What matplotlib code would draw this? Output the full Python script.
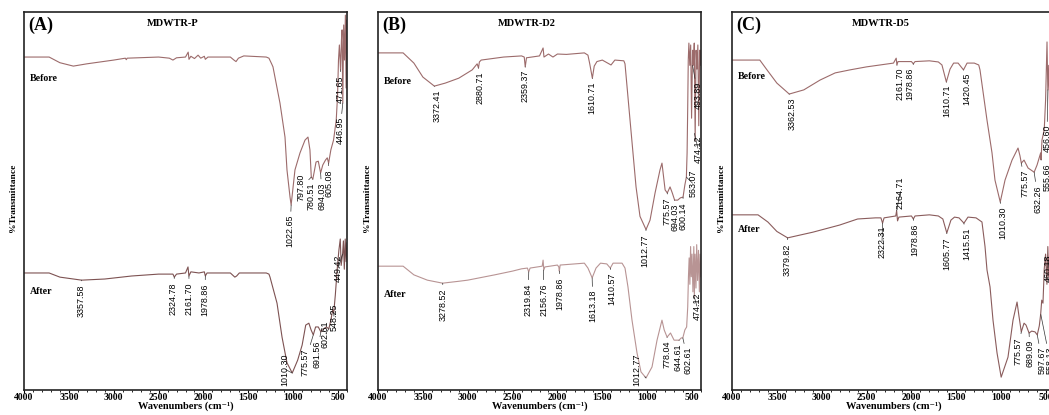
import numpy as np
import matplotlib
matplotlib.use("Agg")
import matplotlib.pyplot as plt
from matplotlib.ticker import MultipleLocator

plt.rcParams['font.family'] = ['Liberation Serif', 'DejaVu Serif']

# spectra: (wavenumber, %T on an arbitrary 0-100 scale)
a_before = [(4000, 88.2), (3720, 88.2), (3600, 86.7), (3450, 85.8), (3300, 86.4), (3000, 87.4),
            (2870, 87.9), (2860, 87.5), (2850, 87.9), (2500, 88.2), (2380, 87.9), (2340, 87.4),
            (2300, 88.0), (2200, 88.2), (2170, 89.5), (2161, 87.6), (2140, 88.4), (2100, 87.8),
            (2060, 88.7), (2030, 87.9), (1990, 88.4), (1979, 87.6), (1950, 88.2), (1700, 88.2),
            (1660, 87.4), (1637, 87.0), (1610, 87.9), (1550, 88.5), (1300, 88.2), (1270, 87.9),
            (1240, 86.4), (1225, 85.6), (1147, 76.0), (1091, 67.0), (1069, 58.3), (1035, 51.1),
            (1022.65, 49.0), (980, 58.3), (924, 62.8), (868, 66.2), (835, 67.0), (813, 63.6),
            (798, 56.4), (780.5, 55.9), (745, 60.4), (720, 60.6), (694, 57.5), (670, 59.6),
            (640, 60.9), (620, 61.5), (605, 60.1), (580, 63.6), (550, 66.2), (520, 71.5),
            (505, 78.1), (495, 87.4), (485, 91.4), (472, 84.8), (462, 92.7), (455, 95.4),
            (447, 76.0), (437, 96.7), (428, 87.4), (418, 99.3), (410, 80.0), (404, 98.0), (400, 96.7)]
a_after = [(4000, 31.0), (3720, 31.0), (3600, 29.9), (3358, 29.1), (3100, 29.4), (2800, 30.2),
           (2500, 30.7), (2340, 30.7), (2325, 29.9), (2300, 30.7), (2200, 31.0), (2172, 32.6),
           (2162, 30.2), (2140, 31.3), (2050, 31.0), (1990, 31.3), (1979, 30.2), (1960, 31.0),
           (1700, 31.0), (1650, 29.9), (1630, 30.2), (1600, 31.0), (1300, 31.0), (1270, 30.7),
           (1258, 29.9), (1180, 23.0), (1124, 14.0), (1069, 7.2), (1010.3, 4.5), (950, 7.9),
           (900, 11.9), (860, 17.2), (825, 17.7), (800, 15.9), (775.6, 14.6), (750, 16.7),
           (720, 16.7), (691.6, 15.4), (660, 16.2), (630, 16.7), (602.6, 16.2), (580, 18.5),
           (560, 21.2), (548, 20.4), (530, 25.2), (510, 31.8), (490, 37.1), (475, 40.0),
           (465, 33.0), (449.4, 36.0), (440, 39.5), (430, 32.0), (420, 40.0), (410, 34.0), (400, 39.0)]

b_before = [(4000, 89.3), (3720, 89.3), (3600, 86.6), (3500, 82.9), (3372, 80.5), (3250, 81.3),
            (3100, 82.6), (2950, 84.8), (2895, 86.4), (2880, 85.3), (2870, 86.9), (2850, 87.4),
            (2600, 88.2), (2400, 88.5), (2370, 88.2), (2359, 85.6), (2345, 88.0), (2200, 88.5),
            (2160, 90.6), (2150, 88.2), (2100, 89.0), (2050, 88.2), (2000, 89.0), (1900, 88.9),
            (1700, 89.3), (1660, 88.7), (1640, 86.4), (1611, 82.6), (1590, 85.8), (1560, 87.0),
            (1500, 87.4), (1403, 86.1), (1360, 87.4), (1260, 87.2), (1247, 86.4), (1191, 71.5),
            (1158, 62.8), (1124, 53.8), (1080, 46.0), (1012.77, 42.5), (968, 45.0), (912, 52.2),
            (857, 58.3), (835, 60.1), (800, 53.0), (775.6, 52.2), (745, 53.8), (720, 52.2),
            (694, 50.3), (660, 50.3), (630, 50.9), (600, 51.1), (580, 54.3), (563, 56.4),
            (555, 62.8), (548, 75.0), (542, 87.4), (535, 91.9), (525, 86.0), (515, 91.4),
            (505, 72.0), (494, 90.0), (485, 86.0), (475, 91.9), (465, 66.0), (455, 90.0),
            (445, 85.0), (435, 91.4), (425, 70.0), (415, 90.0), (405, 86.0), (400, 90.0)]
b_after = [(4000, 32.8), (3720, 32.8), (3600, 30.5), (3450, 29.1), (3280, 28.3), (3100, 28.8),
           (3000, 29.1), (2700, 30.5), (2500, 31.5), (2400, 32.1), (2335, 32.3), (2320, 31.3),
           (2305, 32.3), (2170, 32.8), (2160, 34.4), (2152, 31.8), (2140, 32.6), (2000, 33.1),
           (1985, 32.6), (1979, 31.5), (1970, 33.1), (1700, 33.6), (1660, 32.3), (1613, 29.7),
           (1570, 32.3), (1520, 33.6), (1450, 33.4), (1411, 32.3), (1380, 33.6), (1280, 33.6),
           (1247, 32.3), (1214, 27.3), (1169, 18.5), (1113, 9.8), (1069, 4.8), (1012.77, 3.2),
           (946, 6.1), (890, 13.2), (835, 18.5), (810, 15.9), (778, 14.0), (740, 15.1),
           (700, 13.2), (644.6, 13.2), (620, 13.8), (602.6, 13.8), (580, 15.9), (560, 16.7),
           (548, 22.0), (540, 30.0), (532, 35.0), (524, 28.0), (516, 38.0), (508, 30.0),
           (500, 36.0), (490, 26.0), (480, 38.0), (474, 24.6), (466, 36.0), (456, 27.0),
           (448, 38.5), (438, 29.0), (428, 37.0), (418, 26.0), (410, 36.0), (400, 30.0)]

c_before = [(4000, 87.4), (3690, 87.4), (3610, 84.8), (3500, 81.3), (3362, 78.4), (3200, 79.5),
            (3019, 82.1), (2850, 84.0), (2685, 84.8), (2500, 85.6), (2350, 86.1), (2200, 86.6),
            (2170, 87.9), (2162, 86.1), (2150, 87.0), (2000, 87.0), (1979, 86.4), (1960, 87.0),
            (1800, 87.2), (1700, 86.9), (1660, 86.1), (1611, 81.6), (1570, 85.0), (1530, 86.6),
            (1480, 86.6), (1420, 84.8), (1380, 86.6), (1300, 86.6), (1250, 86.1), (1236, 84.8),
            (1158, 71.5), (1102, 62.8), (1069, 55.6), (1010.3, 49.8), (957, 55.6), (879, 60.9),
            (812, 64.1), (790, 62.0), (775.6, 60.1), (745, 60.9), (700, 58.8), (632.3, 57.7),
            (600, 59.6), (560, 62.8), (555.7, 61.0), (545, 66.2), (520, 68.9), (505, 76.8),
            (489, 92.2), (480, 79.5), (470, 86.0), (460, 74.0), (450, 84.0), (440, 72.0),
            (430, 80.0), (400, 76.0)]
c_after = [(4000, 46.4), (3710, 46.4), (3600, 44.5), (3500, 42.0), (3380, 40.3), (3250, 41.0),
           (3100, 41.8), (2800, 43.7), (2600, 45.3), (2400, 45.6), (2340, 45.6), (2322, 44.2),
           (2305, 45.6), (2175, 46.1), (2165, 47.5), (2155, 44.8), (2140, 45.8), (2000, 46.1),
           (1979, 45.3), (1960, 46.1), (1800, 46.4), (1700, 46.1), (1650, 45.3), (1606, 41.6),
           (1560, 45.0), (1520, 45.8), (1470, 45.6), (1415, 44.2), (1370, 45.8), (1280, 45.6),
           (1214, 44.5), (1180, 38.0), (1158, 31.8), (1124, 27.3), (1091, 18.5), (1046, 9.8),
           (1000, 3.4), (924, 8.7), (868, 18.5), (823, 23.3), (800, 19.3), (775.6, 15.4),
           (745, 17.7), (723, 17.2), (689, 15.1), (660, 15.6), (623, 15.4), (597.7, 14.6),
           (575, 17.0), (560, 20.0), (548, 23.8), (534, 23.0), (520, 32.0), (505, 36.0),
           (490, 28.0), (480, 38.0), (470, 30.0), (460, 36.0), (450, 29.0), (440, 37.0),
           (420, 30.0), (400, 35.0)]

# peak labels: (text, peak wn, peak %T)
a_before_peaks = [("1022.65", 1022.65, 49.0), ("797.80", 797.8, 56.4), ("780.51", 780.5, 55.9),
                  ("694.03", 694.0, 57.5), ("605.08", 605.1, 60.1), ("446.95", 447.0, 76.0),
                  ("471.65", 471.7, 84.8)]
a_after_peaks = [("3357.58", 3357.6, 29.1), ("2324.78", 2324.8, 29.9), ("2161.70", 2161.7, 30.2),
                 ("1978.86", 1978.9, 30.2), ("1010.30", 1010.3, 4.5), ("775.57", 775.6, 14.6),
                 ("691.56", 691.6, 15.4), ("602.61", 602.6, 16.2), ("548.25", 548.3, 20.4),
                 ("449.42", 449.4, 36.0)]
b_before_peaks = [("3372.41", 3372.4, 80.5), ("2880.71", 2880.7, 85.3), ("2359.37", 2359.4, 85.6),
                  ("1610.71", 1610.7, 82.6), ("493.89", 493.9, 86.0), ("1012.77", 1012.8, 42.5),
                  ("775.57", 775.6, 52.2), ("694.03", 694.0, 50.3), ("600.14", 600.1, 51.1),
                  ("563.07", 563.1, 56.4), ("474.12", 474.1, 68.0)]
b_after_peaks = [("3278.52", 3278.5, 28.3), ("2319.84", 2319.8, 31.3), ("2156.76", 2156.8, 31.8),
                 ("1978.86", 1978.9, 31.5), ("1613.18", 1613.2, 29.7), ("1410.57", 1410.6, 32.3),
                 ("1012.77", 1012.8, 3.2), ("778.04", 778.0, 14.0), ("644.61", 644.6, 13.2),
                 ("602.61", 602.6, 13.8), ("474.12", 474.1, 24.6)]
c_before_peaks = [("3362.53", 3362.5, 78.4), ("2161.70", 2161.7, 86.1), ("1978.86", 1978.9, 86.4),
                  ("1610.71", 1610.7, 81.6), ("1420.45", 1420.5, 84.8), ("1010.30", 1010.3, 49.8),
                  ("775.57", 775.6, 60.1), ("632.26", 632.3, 57.7), ("555.66", 555.7, 61.0),
                  ("456.60", 480.0, 79.5)]
c_after_peaks = [("3379.82", 3379.8, 40.3), ("2322.31", 2322.3, 44.2), ("2164.71", 2164.7, 47.5),
                 ("1978.86", 1978.9, 45.3), ("1605.77", 1605.8, 41.6), ("1415.51", 1415.5, 44.2),
                 ("775.57", 775.6, 15.4), ("689.09", 689.1, 15.1), ("597.67", 597.7, 14.6),
                 ("558.13", 558.1, 20.0), ("460.18", 460.0, 36.0)]

# where each label's text sits: (wn, %T at the text end nearest the peak)
a_before_pos = [(1035, 46.4), (913, 57.2), (801, 55.0), (679, 55.0), (600, 58.5), (478, 72.3), (478, 83.4)]
a_after_pos = [(3365, 28.0), (2339, 28.6), (2161, 28.6), (1983, 28.3), (1091, 9.8), (868, 11.1),
               (734, 13.2), (640, 18.5), (545, 23.0), (500, 35.8)]
b_before_pos = [(3342, 79.5), (2863, 84.5), (2362, 84.8), (1615, 81.6), (433, 81.6), (1024, 41.3),
                (779, 51.0), (690, 49.5), (600, 49.8), (489, 58.3), (433, 67.5)]
b_after_pos = [(3276, 27.0), (2328, 28.3), (2150, 28.3), (1971, 29.9), (1604, 26.5), (1392, 31.0),
               (1113, 9.8), (779, 13.0), (656, 12.2), (545, 11.4), (444, 25.7)]
c_before_pos = [(3331, 77.6), (2127, 85.3), (2016, 85.3), (1604, 80.8), (1381, 84.0), (979, 48.5),
                (734, 58.3), (589, 54.3), (489, 60.0), (489, 70.2)]
c_after_pos = [(3387, 38.9), (2328, 43.5), (2127, 48.0), (1960, 44.0), (1604, 40.5), (1381, 43.0),
               (812, 14.0), (678, 13.2), (545, 11.4), (455, 11.4), (480, 35.8)]
c_above = ["2164.71"]

panels = [
    ("(A)", "MDWTR-P", a_before, a_after, a_before_peaks + a_after_peaks, a_before_pos + a_after_pos,
     0.824, 0.260, '#9c6b6b', '#7d5252'),
    ("(B)", "MDWTR-D2", b_before, b_after, b_before_peaks + b_after_peaks, b_before_pos + b_after_pos,
     0.816, 0.254, '#9c6b6b', '#b89494'),
    ("(C)", "MDWTR-D5", c_before, c_after, c_before_peaks + c_after_peaks, c_before_pos + c_after_pos,
     0.830, 0.424, '#9c6b6b', '#8a5c5c'),
]
lefts = [24, 378, 732]

W, H = 1049, 415
fig = plt.figure(figsize=(W / 100, H / 100), dpi=100)

for (tag, name, before, after, peaks, pos, yb, ya, cb, ca), left in zip(panels, lefts):
    ax = fig.add_axes([left / W, 1 - 390 / H, 323 / W, 377.5 / H])
    bw, bt = np.array(before).T
    aw, at = np.array(after).T
    ax.plot(bw, bt, color=cb, lw=0.8)
    ax.plot(aw, at, color=ca, lw=0.8)
    ax.set_xlim(4000, 400)
    ax.set_ylim(0, 100)
    ax.set_yticks([])
    ax.xaxis.set_major_locator(MultipleLocator(500))
    ax.xaxis.set_minor_locator(MultipleLocator(100))
    ax.tick_params(axis='x', which='major', direction='out', length=2.5, width=0.8, pad=0,
                   labelsize=7)
    ax.tick_params(axis='x', which='minor', direction='out', length=1.5, width=0.6)
    for lab in ax.get_xticklabels():
        lab.set_fontweight('bold')
    for sp in ax.spines.values():
        sp.set_linewidth(1.2)
        sp.set_color('#222222')
    ax.set_xlabel('Wavenumbers (cm\u207b\u00b9)', fontsize=7.5, fontweight='bold')
    ax.xaxis.set_label_coords(0.5, -0.031)
    ax.set_ylabel('%Transmittance', fontsize=6.8, fontweight='bold')
    ax.yaxis.set_label_coords(-0.022, 0.51)

    ax.text(0.012, 0.967, tag, transform=ax.transAxes, fontsize=13, fontweight='bold',
            ha='left', va='center')
    ax.text(0.46, 0.97, name, transform=ax.transAxes, fontsize=7.5, fontweight='bold',
            ha='center', va='center')
    ax.text(0.019, yb, 'Before', transform=ax.transAxes, fontsize=7.1, fontweight='bold',
            ha='left', va='center')
    ax.text(0.019, ya, 'After', transform=ax.transAxes, fontsize=7.1, fontweight='bold',
            ha='left', va='center')

    for (lab, pw, pt), (tw, tt) in zip(peaks, pos):
        va = 'bottom' if lab in c_above and tag == "(C)" else 'top'
        ax.annotate(lab, xy=(pw, pt), xytext=(tw, tt), rotation=90, ha='center', va=va,
                    fontsize=6.4, family=['Liberation Sans', 'DejaVu Sans'],
                    annotation_clip=False,
                    arrowprops=dict(arrowstyle='-', lw=0.5, color='#333333',
                                    shrinkA=0.5, shrinkB=0))

fig.savefig('out.png', dpi=100)
